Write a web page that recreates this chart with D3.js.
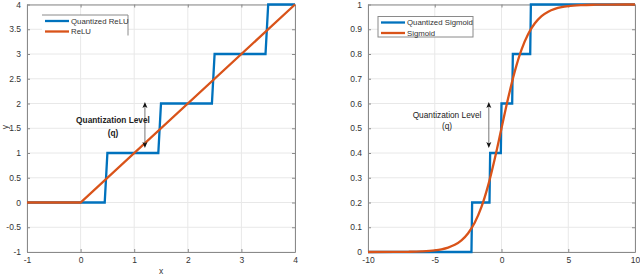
<!DOCTYPE html>
<html>
<head>
<meta charset="utf-8">
<script src="https://cdn.jsdelivr.net/npm/d3@7"></script>
<style>
html,body{margin:0;padding:0;background:#fff;}
svg{display:block;font-family:"Liberation Sans",Arial,Helvetica,sans-serif;}
</style>
</head>
<body>
<svg id="chart" width="640" height="276"></svg>
<script>
// ---------- data ----------
const reluX = [-1, 0, 4];
const reluY = [0, 0, 4];
const qReluX = [-1, 0.45, 0.5, 1.45, 1.5, 2.45, 2.5, 3.45, 3.5, 4];
const qReluY = [0, 0, 1, 1, 2, 2, 3, 3, 4, 4];
const sigX = [-10, -8, -7, -6, -5, -4.5, -4, -3.5, -3, -2.5, -2, -1.5, -1, -0.5, 0, 0.5, 1, 1.5, 2, 2.5, 3, 3.5, 4, 4.5, 5, 6, 7, 8, 10];
const sigY = [0.00005, 0.0003, 0.0009, 0.0025, 0.0067, 0.011, 0.018, 0.029, 0.047, 0.076, 0.119, 0.182, 0.269, 0.378, 0.5, 0.622, 0.731, 0.818, 0.881, 0.924, 0.953, 0.971, 0.982, 0.989, 0.9933, 0.9975, 0.9991, 0.9997, 0.99995];
const qSigX = [-10, -2.25, -2.2, -0.9, -0.85, -0.05, 0, 0.8, 0.85, 2.15, 2.2, 10];
const qSigY = [0, 0, 0.2, 0.2, 0.4, 0.4, 0.6, 0.6, 0.8, 0.8, 1, 1];
const leftXTicks = [-1, 0, 1, 2, 3, 4];
const leftYTicks = [-1, -0.5, 0, 0.5, 1, 1.5, 2, 2.5, 3, 3.5, 4];
const rightXTicks = [-10, -5, 0, 5, 10];
const rightYTicks = [0, 0.1, 0.2, 0.3, 0.4, 0.5, 0.6, 0.7, 0.8, 0.9, 1];
const leftLegend = ["Quantized ReLU", "ReLU"];
const rightLegend = ["Quantized Sigmoid", "Sigmoid"];
const annotText = ["Quantization Level", "(q)"];

const BLUE = "#0072BD", ORANGE = "#D95319";
const svg = d3.select("#chart");

function panel(opts) {
  const x = d3.scaleLinear().domain(opts.xd).range([opts.x0, opts.x1]);
  const y = d3.scaleLinear().domain(opts.yd).range([opts.y0, opts.y1]);
  const g = svg.append("g");
  // grid
  g.selectAll(".gx").data(opts.xt).enter().append("line")
    .attr("x1", d => x(d)).attr("x2", d => x(d))
    .attr("y1", opts.y0).attr("y2", opts.y1)
    .attr("stroke", "#e8e8e8").attr("stroke-width", 1);
  g.selectAll(".gy").data(opts.yt).enter().append("line")
    .attr("y1", d => y(d)).attr("y2", d => y(d))
    .attr("x1", opts.x0).attr("x2", opts.x1)
    .attr("stroke", "#e8e8e8").attr("stroke-width", 1);
  // axes
  const fmt = d => String(d);
  const ax = g.append("g").attr("transform", `translate(0,${opts.y0})`)
    .call(d3.axisBottom(x).tickValues(opts.xt).tickFormat(fmt).tickSizeInner(-3).tickSizeOuter(0).tickPadding(5));
  const ay = g.append("g").attr("transform", `translate(${opts.x0},0)`)
    .call(d3.axisLeft(y).tickValues(opts.yt).tickFormat(fmt).tickSizeInner(-3).tickSizeOuter(0).tickPadding(6));
  const ay2 = g.append("g").attr("transform", `translate(${opts.x1},0)`)
    .call(d3.axisRight(y).tickValues(opts.yt).tickFormat("").tickSizeInner(-3).tickSizeOuter(0));
  const ax2 = g.append("g").attr("transform", `translate(0,${opts.y1})`)
    .call(d3.axisTop(x).tickValues(opts.xt).tickFormat("").tickSizeInner(-3).tickSizeOuter(0));
  [ax, ay, ay2, ax2].forEach(a => {
    a.selectAll("path").attr("stroke", "#8a8a8a").attr("stroke-width", 1);
    a.selectAll("line").attr("stroke", "#8a8a8a");
    a.selectAll("text").attr("fill", "#333").style("font-size", "8.5px");
  });
  // lines
  const line = d3.line().x(d => x(d[0])).y(d => y(d[1]));
  const lineS = d3.line().x(d => x(d[0])).y(d => y(d[1])).curve(d3.curveMonotoneX);
  g.append("path").datum(d3.zip(opts.qx, opts.qy)).attr("d", line)
    .attr("fill", "none").attr("stroke", BLUE).attr("stroke-width", 2.3);
  g.append("path").datum(d3.zip(opts.fx, opts.fy)).attr("d", opts.smooth ? lineS : line)
    .attr("fill", "none").attr("stroke", ORANGE).attr("stroke-width", 2.3);
  return {x, y, g};
}

const L = panel({xd: [-1, 4], yd: [-1, 4], x0: 27, x1: 295, y0: 252, y1: 4.5,
  xt: leftXTicks, yt: leftYTicks, qx: qReluX, qy: qReluY, fx: reluX, fy: reluY, smooth: false});
const R = panel({xd: [-10, 10], yd: [0, 1], x0: 368, x1: 635, y0: 252, y1: 4.5,
  xt: rightXTicks, yt: rightYTicks, qx: qSigX, qy: qSigY, fx: sigX, fy: sigY, smooth: true});

// axis labels (left panel)
svg.append("text").attr("x", 161).attr("y", 274).attr("text-anchor", "middle")
  .style("font-size", "8.5px").attr("fill", "#333").text("x");
svg.append("text").attr("transform", "translate(8,127) rotate(-90)").attr("text-anchor", "middle")
  .style("font-size", "8.5px").attr("fill", "#333").text("y");

// legends
function legend(x0, y0, w, h, labels, full) {
  const g = svg.append("g");
  g.append("rect").attr("x", x0).attr("y", y0).attr("width", w).attr("height", h)
    .attr("fill", "#fff").attr("stroke", "none");
  if (full) {
    g.append("rect").attr("x", x0).attr("y", y0).attr("width", w).attr("height", h)
      .attr("fill", "none").attr("stroke", "#8a8a8a").attr("stroke-width", 1);
  } else {
    g.append("path").attr("d", `M${x0},${y0}H${x0 + w}V${y0 + h}`)
      .attr("fill", "none").attr("stroke", "#8a8a8a").attr("stroke-width", 1);
  }
  const cols = [BLUE, ORANGE];
  labels.forEach((t, i) => {
    const yy = y0 + 6 + i * 10.5;
    g.append("line").attr("x1", x0 + 3).attr("x2", x0 + 27).attr("y1", yy).attr("y2", yy)
      .attr("stroke", cols[i]).attr("stroke-width", 2.3);
    g.append("text").attr("x", x0 + 29).attr("y", yy + 2.7).style("font-size", "7.8px")
      .attr("fill", "#333").text(t);
  });
}
legend(42, 15, 86, 20.5, leftLegend, false);
legend(378, 16.5, 95, 20.5, rightLegend, true);

// annotations
function arrowV(x, yTop, yBot) {
  const g = svg.append("g");
  g.append("line").attr("x1", x).attr("x2", x).attr("y1", yTop + 3).attr("y2", yBot - 3)
    .attr("stroke", "#555").attr("stroke-width", 0.8);
  g.append("path").attr("d", `M${x},${yTop} L${x - 2.5},${yTop + 6} L${x},${yTop + 4.5} L${x + 2.5},${yTop + 6} Z`).attr("fill", "#111");
  g.append("path").attr("d", `M${x},${yBot} L${x - 2.5},${yBot - 6} L${x},${yBot - 4.5} L${x + 2.5},${yBot - 6} Z`).attr("fill", "#111");
}
arrowV(L.x(1.2), 102, 148);
svg.append("text").attr("x", 113).attr("y", 123).attr("text-anchor", "middle")
  .style("font-size", "8.3px").style("font-weight", "bold").attr("fill", "#222").text(annotText[0]);
svg.append("text").attr("x", 113).attr("y", 135.5).attr("text-anchor", "middle")
  .style("font-size", "8.3px").style("font-weight", "bold").attr("fill", "#222").text(annotText[1]);

arrowV(R.x(-0.95), 102, 148);
svg.append("text").attr("x", 447).attr("y", 118).attr("text-anchor", "middle")
  .style("font-size", "8.3px").attr("fill", "#222").text(annotText[0]);
svg.append("text").attr("x", 447).attr("y", 128.5).attr("text-anchor", "middle")
  .style("font-size", "8.3px").attr("fill", "#222").text(annotText[1]);
</script>
</body>
</html>
